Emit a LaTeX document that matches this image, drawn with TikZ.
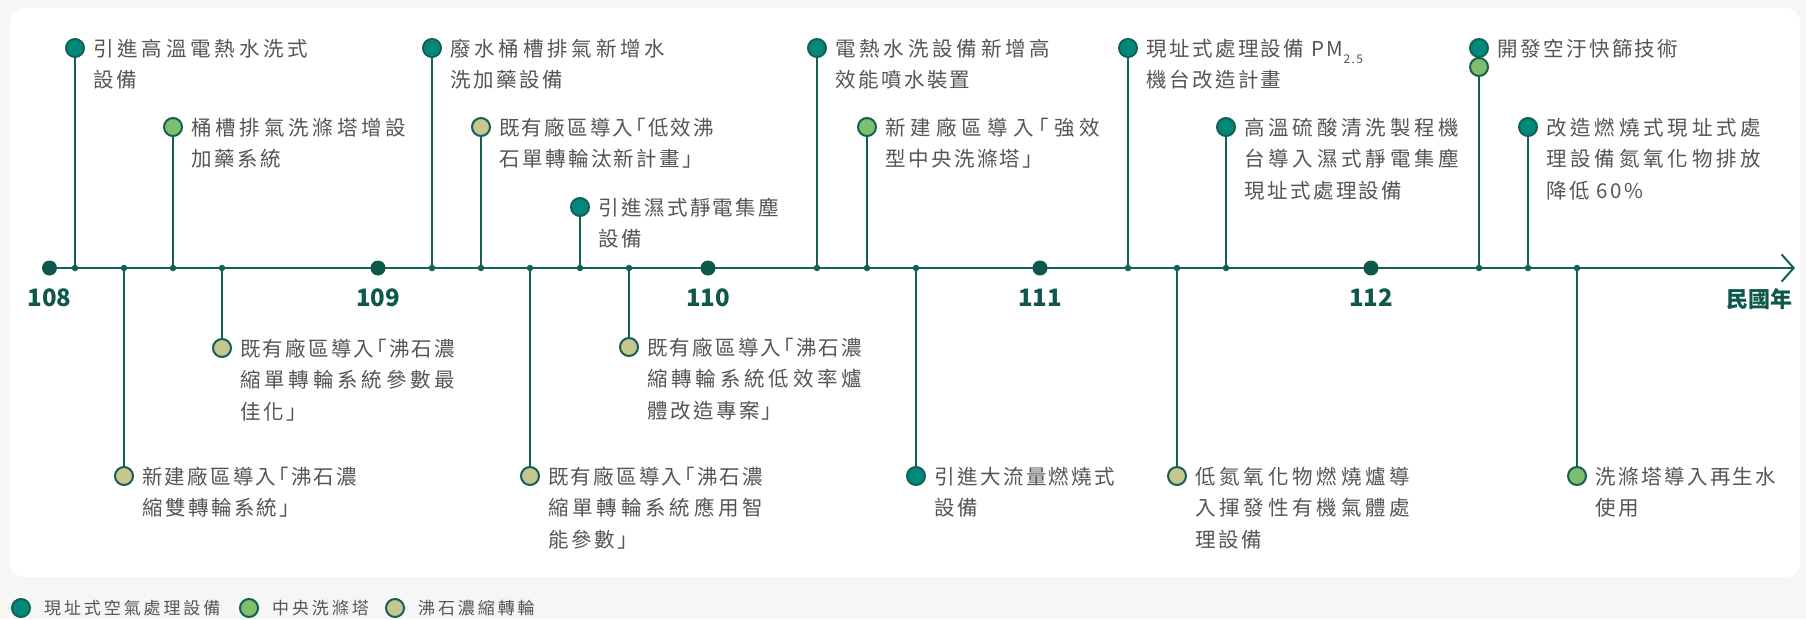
\documentclass[tikz,border=0pt]{standalone}
\usepackage{fontspec}
\usetikzlibrary{arrows.meta}
\newfontfamily\cjk[LetterSpace=12,RawFeature={+halt}]{Noto Sans CJK TC}
\newfontfamily\cjkleg[LetterSpace=17]{Noto Sans CJK TC}
\newfontfamily\cjkb{Noto Sans CJK TC}
\definecolor{bg}{HTML}{F6F6F6}
\definecolor{linec}{HTML}{155F55}
\definecolor{dotc}{HTML}{0D574B}
\definecolor{cteal}{HTML}{00897A}
\definecolor{cgreen}{HTML}{7DBF6A}
\definecolor{ckhaki}{HTML}{C6C78E}
\definecolor{tgray}{HTML}{555555}
\newcommand\lblfont{\cjk\fontsize{20.5}{31.5}\selectfont}
\newcommand\st{\rule{0pt}{20pt}}
% justified line (wrapped lines are justified in the reference)
\newlength\jw \setlength\jw{215pt}
\def\jlend{}
\def\jl#1{\hbox to \jw{\jlfirst#1\jlend}}
\def\jlfirst#1{#1\jlnext}
\def\jlnext#1{\ifx#1\jlend\else\hfil#1\expandafter\jlnext\fi}
\tikzset{
  ev/.style={circle, draw=linec, line width=2pt, minimum size=18pt, inner sep=0pt},
  evteal/.style={ev, fill=cteal},
  evgreen/.style={ev, fill=cgreen},
  evkhaki/.style={ev, fill=ckhaki},
  tick/.style={circle, fill=linec, minimum size=6.5pt, inner sep=0pt},
  yeardot/.style={circle, fill=dotc, minimum size=15pt, inner sep=0pt},
  stem/.style={draw=linec, line width=2pt},
  axisline/.style={draw=linec, line width=2.2pt},
  lbl/.style={anchor=north west, inner sep=0pt, align=left, text=tgray, font=\lblfont},
  yearlbl/.style={anchor=base, inner sep=0pt, text=dotc, font=\cjkb\bfseries\fontsize{24}{24}\selectfont},
  leg/.style={anchor=base west, inner sep=0pt, text=tgray, font=\cjkleg\fontsize{17}{20}\selectfont}
}
\begin{document}
\begin{tikzpicture}[x=1pt, y=-1pt]
\useasboundingbox (0,0) rectangle (1806,619);
\fill[bg] (0,0) rectangle (1806,619);
\fill[white, rounded corners=14pt] (10,8) rectangle (1800,577);

% axis
\coordinate (axstart) at (49.5,268);
\coordinate (axtip) at (1795,268);
\draw[axisline, -{Straight Barb[length=12pt, width=27pt, line width=2pt]}] (axstart) -- (axtip);

% year dots and labels
\node[yeardot] (y108) at (49.5,268) {};
\node[yeardot] (y109) at (378,268) {};
\node[yeardot] (y110) at (708,268) {};
\node[yeardot] (y111) at (1040,268) {};
\node[yeardot] (y112) at (1371,268) {};
\node[yearlbl] (l108) at (49.5,306) {108};
\node[yearlbl] (l109) at (378,306) {109};
\node[yearlbl] (l110) at (708,306) {110};
\node[yearlbl] (l111) at (1040,306) {111};
\node[yearlbl] (l112) at (1371,306) {112};
\node[anchor=base east, inner sep=0pt, text=dotc, font=\cjkb\bfseries\fontsize{22}{22}\selectfont] (unit) at (1793,307) {民國年};

% ---- events ----
% T1
\node[tick] (a1) at (75,268) {};
\node[evteal] (c1) at (75,48) {};
\draw[stem] (a1) -- (c1);
\node[lbl] (t1) at (93,36) {\st\jl{引進高溫電熱水洗式}\\設備};
% B3
\node[tick] (a3) at (124,268) {};
\node[evkhaki] (c3) at (124,476) {};
\draw[stem] (a3) -- (c3);
\node[lbl] (t3) at (142,464) {\st\jl{新建廠區導入「沸石濃}\\縮雙轉輪系統」};
% T2
\node[tick] (a2) at (173,268) {};
\node[evgreen] (c2) at (173,127) {};
\draw[stem] (a2) -- (c2);
\node[lbl] (t2) at (191,115) {\st\jl{桶槽排氣洗滌塔增設}\\加藥系統};
% B4
\node[tick] (a4) at (222,268) {};
\node[evkhaki] (c4) at (222,348) {};
\draw[stem] (a4) -- (c4);
\node[lbl] (t4) at (240,336) {\st\jl{既有廠區導入「沸石濃}\\\jl{縮單轉輪系統參數最}\\佳化」};
% T5
\node[tick] (a5) at (432,268) {};
\node[evteal] (c5) at (432,48) {};
\draw[stem] (a5) -- (c5);
\node[lbl] (t5) at (450,36) {\st\jl{廢水桶槽排氣新增水}\\洗加藥設備};
% T6
\node[tick] (a6) at (481,268) {};
\node[evkhaki] (c6) at (481,127) {};
\draw[stem] (a6) -- (c6);
\node[lbl] (t6) at (499,115) {\st\jl{既有廠區導入「低效沸}\\石單轉輪汰新計畫」};
% B8
\node[tick] (a8) at (530,268) {};
\node[evkhaki] (c8) at (530,476) {};
\draw[stem] (a8) -- (c8);
\node[lbl] (t8) at (548,464) {\st\jl{既有廠區導入「沸石濃}\\\jl{縮單轉輪系統應用智}\\能參數」};
% T7
\node[tick] (a7) at (580,268) {};
\node[evteal] (c7) at (580,207) {};
\draw[stem] (a7) -- (c7);
\node[lbl] (t7) at (598,195) {\st 引進濕式靜電集塵\\設備};
% B9
\node[tick] (a9) at (629,268) {};
\node[evkhaki] (c9) at (629,347) {};
\draw[stem] (a9) -- (c9);
\node[lbl] (t9) at (647,335) {\st\jl{既有廠區導入「沸石濃}\\\jl{縮轉輪系統低效率爐}\\體改造專案」};
% T10
\node[tick] (a10) at (817,268) {};
\node[evteal] (c10) at (817,48) {};
\draw[stem] (a10) -- (c10);
\node[lbl] (t10) at (835,36) {\st\jl{電熱水洗設備新增高}\\效能噴水裝置};
% T11
\node[tick] (a11) at (867,268) {};
\node[evgreen] (c11) at (867,127) {};
\draw[stem] (a11) -- (c11);
\node[lbl] (t11) at (885,115) {\st\jl{新建廠區導入「強效}\\型中央洗滌塔」};
% B12
\node[tick] (a12) at (916,268) {};
\node[evteal] (c12) at (916,476) {};
\draw[stem] (a12) -- (c12);
\node[lbl] (t12) at (934,464) {\st 引進大流量燃燒式\\設備};
% T13
\node[tick] (a13) at (1128,268) {};
\node[evteal] (c13) at (1128,48) {};
\draw[stem] (a13) -- (c13);
\node[lbl] (t13) at (1146,36) {\st 現址式處理設備 PM\raisebox{-7pt}{\fontsize{12}{12}\selectfont 2.5}\\機台改造計畫};
% B14
\node[tick] (a14) at (1177,268) {};
\node[evkhaki] (c14) at (1177,476) {};
\draw[stem] (a14) -- (c14);
\node[lbl] (t14) at (1195,464) {\st\jl{低氮氧化物燃燒爐導}\\\jl{入揮發性有機氣體處}\\理設備};
% T15
\node[tick] (a15) at (1226,268) {};
\node[evteal] (c15) at (1226,127) {};
\draw[stem] (a15) -- (c15);
\node[lbl] (t15) at (1244,115) {\st\jl{高溫硫酸清洗製程機}\\\jl{台導入濕式靜電集塵}\\現址式處理設備};
% T16
\node[tick] (a16) at (1479,268) {};
\node[evteal] (c16) at (1479,48) {};
\node[evgreen] (c16b) at (1479,67) {};
\draw[stem] (a16) -- (c16b);
\node[lbl] (t16) at (1497,36) {\st 開發空汙快篩技術};
% T17
\node[tick] (a17) at (1528,268) {};
\node[evteal] (c17) at (1528,127) {};
\draw[stem] (a17) -- (c17);
\node[lbl] (t17) at (1546,115) {\st\jl{改造燃燒式現址式處}\\\jl{理設備氮氧化物排放}\\降低 60\%};
% B18
\node[tick] (a18) at (1577,268) {};
\node[evgreen] (c18) at (1577,476) {};
\draw[stem] (a18) -- (c18);
\node[lbl] (t18) at (1595,464) {\st 洗滌塔導入再生水\\使用};

% legend
\node[evteal] (g1) at (21,608) {};
\node[leg] (g1t) at (44,614.5) {現址式空氣處理設備};
\node[evgreen] (g2) at (249,608) {};
\node[leg] (g2t) at (272,614.5) {中央洗滌塔};
\node[evkhaki] (g3) at (395,608) {};
\node[leg] (g3t) at (418,614.5) {沸石濃縮轉輪};
\end{tikzpicture}
\end{document}
